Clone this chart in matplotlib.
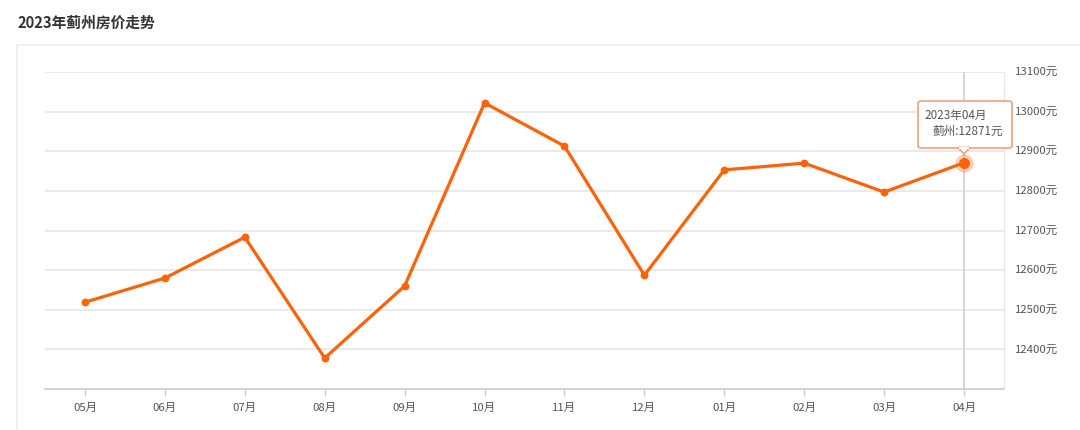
import matplotlib
matplotlib.use("Agg")
import matplotlib.pyplot as plt
from matplotlib.patches import FancyBboxPatch, Polygon, Rectangle

plt.rcParams['font.family'] = ['Noto Sans CJK SC', 'DejaVu Sans']

months = ["05月", "06月", "07月", "08月", "09月", "10月", "11月", "12月", "01月", "02月", "03月", "04月"]
prices = [12519, 12580, 12683, 12378, 12560, 13022, 12913, 12587, 12853, 12870, 12797, 12871]
yticks = [12400, 12500, 12600, 12700, 12800, 12900, 13000, 13100]
title = "2023年蓟州房价走势"
tip_title = "2023年04月"
tip_label = "蓟州"

W, H = 1080, 430
fig = plt.figure(figsize=(W / 100, H / 100), dpi=100)

# panel border
fig.add_artist(Rectangle((17 / W, -0.1), 1.2, (H - 45) / H + 0.1, transform=fig.transFigure,
                         fill=False, edgecolor="#eeeeee", linewidth=1.2))
fig.text(17 / W, 1 - 23 / H, title, fontsize=10.6, fontweight="bold", color="#333333", va="center", ha="left")

ax = fig.add_axes([45 / W, (H - 389) / H, 959 / W, 317 / H])
x = list(range(len(months)))
ax.set_xlim(-0.5, len(months) - 0.5)
ax.set_ylim(12300, 13100)

ax.set_yticks(yticks)
ax.set_yticklabels([f"{v}元" for v in yticks])
ax.yaxis.tick_right()
ax.tick_params(axis="y", length=0, pad=8, labelsize=8.2, labelcolor="#555555")
ax.set_xticks(x)
ax.set_xticklabels(months)
ax.tick_params(axis="x", length=5, width=1, color="#cccccc", pad=5, labelsize=8.2, labelcolor="#555555")

ax.grid(axis="y", color="#e6e6e6", linewidth=1.2)
ax.set_axisbelow(True)
for s in ["left", "top"]:
    ax.spines[s].set_visible(False)
ax.spines["right"].set_color("#e6e6e6")
ax.spines["bottom"].set_color("#cccccc")
ax.spines["bottom"].set_linewidth(1.2)

# crosshair at last point
ax.axvline(x[-1], color="#d0d0d0", linewidth=1.2, zorder=1)

ax.plot(x, prices, color="#ff6207", linewidth=2.3, marker="o", markersize=4.6, zorder=3)
ax.plot(x[-1], prices[-1], "o", color="#ff6207", markersize=12, alpha=0.25, zorder=4)
ax.plot(x[-1], prices[-1], "o", color="#ff6207", markersize=7, zorder=5)

# tooltip
bx0, by0, bw, bh = 918, 101, 94, 47
box = FancyBboxPatch((bx0 / W, 1 - (by0 + bh) / H), bw / W, bh / H, transform=fig.transFigure,
                     boxstyle="round,pad=0,rounding_size=0.004", facecolor="white",
                     edgecolor="#f0a27c", linewidth=1.2, zorder=10)
fig.add_artist(box)
tri = Polygon([((958) / W, 1 - 147.5 / H), (970 / W, 1 - 147.5 / H), (964 / W, 1 - 154 / H)],
              closed=True, transform=fig.transFigure, facecolor="white", edgecolor="#f0a27c",
              linewidth=1.2, zorder=11)
fig.add_artist(tri)
fig.add_artist(Rectangle((958.8 / W, 1 - 149 / H), 10.4 / W, 2.5 / H, transform=fig.transFigure,
                         facecolor="white", edgecolor="none", zorder=12))
fig.text(924 / W, 1 - 115 / H, tip_title, fontsize=8.4, color="#555555", va="center", ha="left", zorder=13)
fig.text(933 / W, 1 - 131 / H, f"{tip_label}:{prices[-1]}元", fontsize=8.4, color="#555555",
         va="center", ha="left", zorder=13)

fig.savefig("out.png", dpi=100, facecolor="white")
